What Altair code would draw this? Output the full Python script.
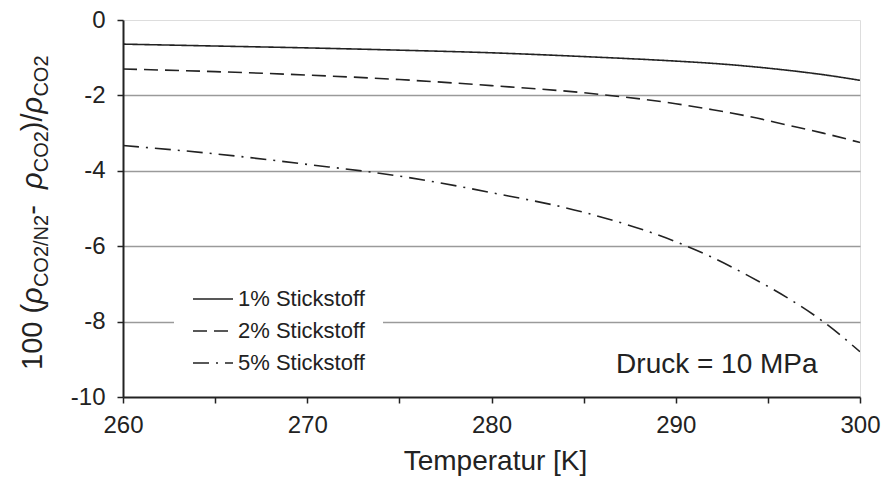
import altair as alt
import pandas as pd

FONT = "Liberation Sans"
TXT = "#222222"

temps = [260, 265, 270, 275, 280, 285, 290, 292, 294, 296, 298, 300]
n1 = [-0.64, -0.69, -0.74, -0.80, -0.87, -0.97, -1.09, -1.15, -1.23, -1.33, -1.45, -1.60]
n2 = [-1.30, -1.37, -1.46, -1.58, -1.74, -1.93, -2.22, -2.38, -2.56, -2.78, -3.00, -3.25]
n5 = [-3.33, -3.55, -3.83, -4.14, -4.58, -5.10, -5.88, -6.30, -6.80, -7.35, -8.00, -8.80]
series_names = ["1% Stickstoff", "2% Stickstoff", "5% Stickstoff"]
dashes = [[1, 0], [14, 7], [16, 7, 2, 7]]
x_ticks = [260, 265, 270, 275, 280, 285, 290, 295, 300]
y_ticks = list(range(-10, 1))
annotation = "Druck = 10 MPa"
x_title = "Temperatur [K]"
y_title_parts = [("100 (", False, False), ("ρ", False, True), ("CO2/N2", True, False),
                 (" - ", False, False), ("ρ", False, True), ("CO2", True, False),
                 (")/", False, False), ("ρ", False, True), ("CO2", True, False)]

rows = []
for name, vals in zip(series_names, [n1, n2, n5]):
    for t, v in zip(temps, vals):
        rows.append({"T": t, "v": v, "s": name})
df = pd.DataFrame(rows)

W, H = 737, 377

lines = alt.Chart(df).mark_line(color="#222222", strokeWidth=1.6, interpolate="monotone", clip=True).encode(
    x=alt.X("T:Q", scale=alt.Scale(domain=[260, 300], nice=False, zero=False),
            axis=alt.Axis(values=x_ticks, title=x_title,
                          labelExpr="datum.value % 10 == 0 ? datum.label : ''",
                          labelFlush=False, labelOverlap=False,
                          grid=False, tickSize=6, tickWidth=1.5, tickColor="#222",
                          domainColor="#222", domainWidth=2, zindex=2,
                          labelFontSize=24, labelFont=FONT, labelColor=TXT, labelPadding=10,
                          titleFontSize=28, titleFont=FONT, titleFontWeight="normal", titleColor=TXT,
                          titleX=372, titleY=72, titleBaseline="alphabetic", titleAlign="center")),
    y=alt.Y("v:Q", scale=alt.Scale(domain=[-10, 0], nice=False, zero=False),
            axis=alt.Axis(values=y_ticks, title=None,
                          labelExpr="datum.value % 2 == 0 ? (datum.value < 0 ? '-' + abs(datum.value) : '' + datum.value) : ''",
                          labelFlush=False, labelOverlap=False,
                          grid=True, gridColor="#9a9a9a", gridWidth=1.5,
                          gridOpacity={"condition": {"test": "datum.value % 2 == 0 && datum.value > -10 && datum.value < 0", "value": 1}, "value": 0},
                          tickSize=6, tickWidth=1.5, tickColor="#222",
                          domainColor="#222", domainWidth=2, zindex=0,
                          labelFontSize=24, labelFont=FONT, labelColor=TXT, labelPadding=12)),
    strokeDash=alt.StrokeDash("s:N", scale=alt.Scale(domain=series_names, range=dashes),
                              legend=alt.Legend(title=None, orient="none", legendX=51, legendY=240,
                                                fillColor="white", padding=18, zindex=1,
                                                symbolType="stroke", symbolSize=1600,
                                                symbolStrokeColor="#222", symbolStrokeWidth=1.6,
                                                labelFontSize=22, labelFont=FONT, labelColor=TXT,
                                                labelOffset=4, rowPadding=0)),
)

ann = alt.Chart(pd.DataFrame({"T": [297.7], "v": [-9.36], "t": [annotation]})).mark_text(
    align="right", baseline="alphabetic", fontSize=28, font=FONT, color=TXT
).encode(x="T:Q", y="v:Q", text="t:N")

# y-axis title built from segments (main text + subscripts)
widths = {"0": 0.556, "1": 0.556, "2": 0.556, " ": 0.278, "(": 0.333, ")": 0.333, "/": 0.278,
          "-": 0.333, "C": 0.722, "O": 0.778, "N": 0.722, "ρ": 0.58}
MAIN, SUB = 29, 20
base_x = 42 - 123
pos = 370 - 20
layers = []
for txt, sub, ital in y_title_parts:
    fs = SUB if sub else MAIN
    w = sum(widths.get(c, 0.55) for c in txt) * fs
    layers.append(
        alt.Chart(pd.DataFrame({"t": [txt]})).mark_text(
            angle=270, align="left", baseline="alphabetic", fontSize=fs, font=FONT,
            fontStyle="italic" if ital else "normal", color=TXT
        ).encode(x=alt.value(base_x + (6 if sub else 0)), y=alt.value(pos), text="t:N")
    )
    pos -= w

chart = alt.layer(lines, ann, *layers).properties(
    width=W, height=H,
    autosize=alt.AutoSizeParams(type="none"),
    padding={"left": 123, "top": 20, "right": 22, "bottom": 80},
).configure_view(stroke="#222", strokeWidth=2).configure(background="white")

chart.save("out.html", embed_options={"renderer": "svg", "actions": False})
